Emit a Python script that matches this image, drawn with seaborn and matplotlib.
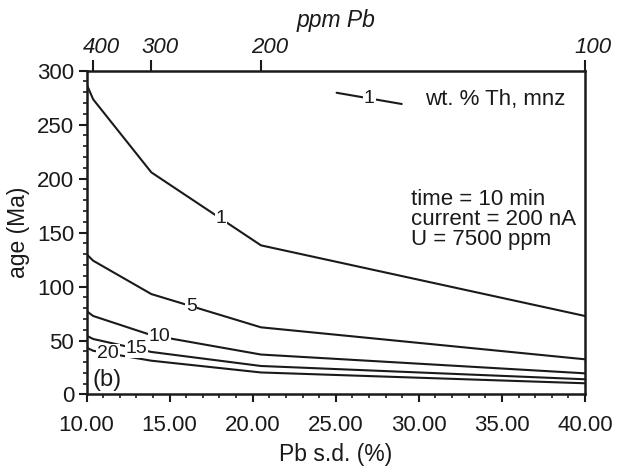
import matplotlib
matplotlib.use("Agg")
import matplotlib.pyplot as plt
from matplotlib.ticker import MultipleLocator, FixedLocator
from matplotlib.transforms import ScaledTranslation
import numpy as np
import pandas as pd
import seaborn as sns

# Pb standard deviation (%) at the computed nodes
pb_sd = [10.0, 10.4, 13.9, 20.5, 40.0]

# Th content of monazite (wt. %) for each curve
th_levels = [1, 5, 10, 15, 20]

# age (Ma) for each Th content
age_th1 = [287.5, 273.3, 205.7, 138.1, 72.7]
age_th5 = [130.0, 123.9, 93.0, 62.2, 32.6]
age_th10 = [77.3, 72.7, 55.0, 37.0, 19.6]
age_th15 = [54.5, 51.4, 39.4, 26.4, 14.1]
age_th20 = [43.4, 40.5, 31.3, 20.4, 10.4]

# secondary scale: Pb concentration
ppm_pb_sd = [10.4, 13.9, 20.5, 40.0]
ppm_pb_labels = ["400", "300", "200", "100"]

# x position of each curve label along its curve
label_x = {1: 18.1, 5: 16.3, 10: 14.4, 15: 13.0, 20: 11.3}

ages = {1: age_th1, 5: age_th5, 10: age_th10, 15: age_th15, 20: age_th20}

df = pd.DataFrame(
    [(x, y, th) for th in th_levels for x, y in zip(pb_sd, ages[th])],
    columns=["pb_sd", "age", "th"],
)

sns.set_style("ticks")
plt.rcParams["font.family"] = ["Liberation Sans", "DejaVu Sans"]
ink = "#1a1a1a"
fs = 16

fig = plt.figure(figsize=(6.18, 4.72), dpi=100)
ax = fig.add_axes([0.14, 0.1642, 0.8066, 0.6864])

sns.lineplot(
    data=df, x="pb_sd", y="age", hue="th", units="th", estimator=None,
    sort=False, palette=[ink] * len(th_levels), linewidth=1.5,
    legend=False, ax=ax,
)

for th in th_levels:
    lx = label_x[th]
    ly = np.interp(lx, pb_sd, ages[th])
    ax.text(lx, ly, str(th), fontsize=14, color=ink, ha="center", va="center",
            bbox=dict(facecolor="white", edgecolor="none", pad=0.6), zorder=5)

# key for the curve labels
ax.plot([25.05, 28.97], [279.4, 269.0], color=ink, lw=1.5)
ax.text(27.02, 274.5, "1", fontsize=14, color=ink, ha="center", va="center",
        bbox=dict(facecolor="white", edgecolor="none", pad=1.0), zorder=5)
ax.text(30.4, 272.7, "wt. % Th, mnz", fontsize=fs, color=ink, ha="left", va="center")

ax.text(29.55, 181.0, "time = 10 min", fontsize=fs, color=ink, ha="left", va="center")
ax.text(29.55, 162.4, "current = 200 nA", fontsize=fs, color=ink, ha="left", va="center")
ax.text(29.55, 143.8, "U = 7500 ppm", fontsize=fs, color=ink, ha="left", va="center")

ax.text(11.22, 13.4, "(b)", fontsize=17, color=ink, ha="center", va="center")

ax.set_xlim(10, 40)
ax.set_ylim(0, 300)
ax.xaxis.set_major_locator(MultipleLocator(5))
ax.xaxis.set_minor_locator(MultipleLocator(1))
ax.yaxis.set_major_locator(MultipleLocator(50))
ax.yaxis.set_minor_locator(MultipleLocator(10))
ax.set_xticklabels([f"{v:.2f}" for v in ax.get_xticks()])
ax.tick_params(axis="both", which="major", direction="out", length=6, width=1.5,
               color=ink, labelsize=fs, labelcolor=ink)
ax.tick_params(axis="both", which="minor", direction="out", length=3, width=1.2, color=ink)
ax.tick_params(axis="x", which="major", pad=9)
ax.tick_params(axis="y", which="major", pad=3)
ax.set_xlabel("Pb s.d. (%)", fontsize=16.5, color=ink, labelpad=5)
ax.set_ylabel("age (Ma)", fontsize=16.5, color=ink, labelpad=5)
for s in ax.spines.values():
    s.set_visible(True)
    s.set_linewidth(1.8)
    s.set_color(ink)

top = ax.twiny()
top.set_xlim(ax.get_xlim())
top.xaxis.set_major_locator(FixedLocator(ppm_pb_sd))
top.set_xticklabels(ppm_pb_labels, fontstyle="italic", fontsize=fs, color=ink)
top.tick_params(axis="x", which="major", direction="out", length=8, width=1.5,
                color=ink, pad=1)
shift = ScaledTranslation(6 / 72, 0, fig.dpi_scale_trans)
for lab in top.get_xticklabels():
    lab.set_transform(lab.get_transform() + shift)
top.set_xlabel("ppm Pb", fontstyle="italic", fontsize=16.5, color=ink, labelpad=7)
for s in top.spines.values():
    s.set_visible(False)

fig.savefig("out.png", dpi=100)
